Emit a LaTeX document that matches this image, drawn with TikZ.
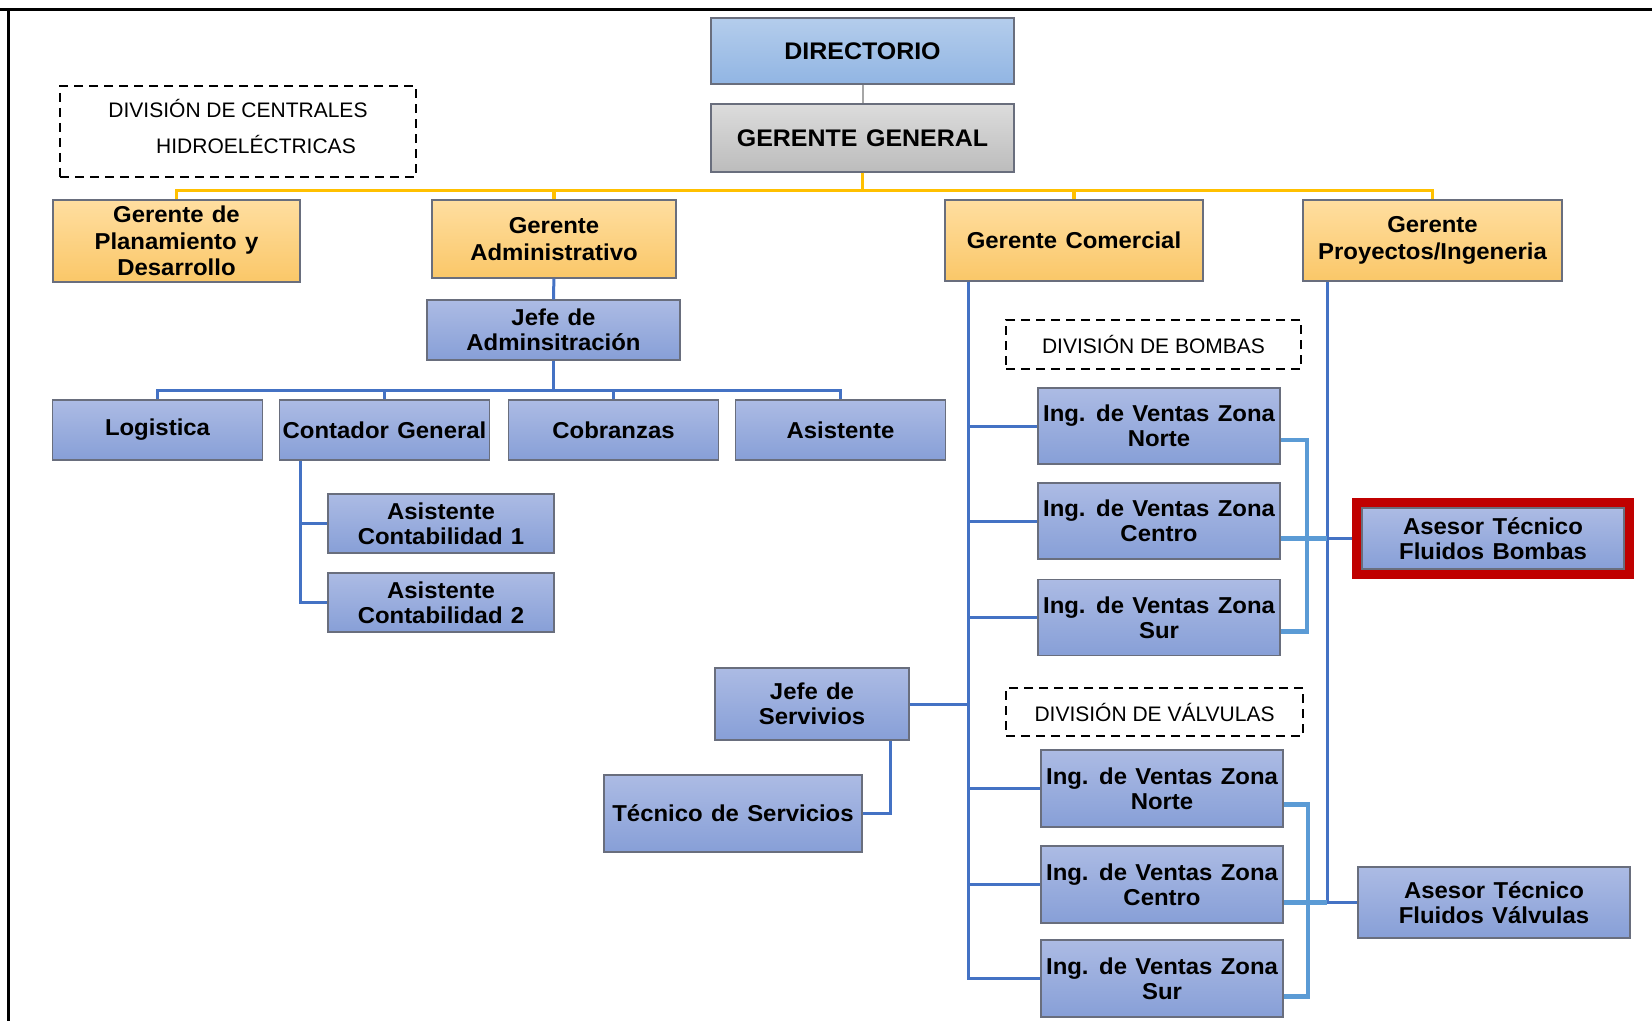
\documentclass[tikz,border=0pt]{standalone}
\usepackage{fontspec}
\setmainfont{Liberation Sans}
\newfontfamily\boxfont{Liberation Sans}[FakeStretch=1.04,WordSpace=1.25]
\usepackage{xcolor}
\definecolor{bluetop}{RGB}{172,187,228}
\definecolor{bluebot}{RGB}{135,159,215}
\definecolor{orgtop}{RGB}{255,222,160}
\definecolor{orgbot}{RGB}{250,199,104}
\definecolor{dirtop}{RGB}{180,205,236}
\definecolor{dirbot}{RGB}{145,181,227}
\definecolor{ggtop}{RGB}{220,220,220}
\definecolor{ggbot}{RGB}{188,188,188}
\definecolor{boxedge}{RGB}{105,110,125}
\definecolor{linkblue}{RGB}{68,114,196}
\definecolor{bracketblue}{RGB}{91,155,213}
\definecolor{lineorange}{RGB}{255,192,0}
\definecolor{redframe}{RGB}{192,0,0}

\begin{document}
\begin{tikzpicture}[x=0.5pt,y=-0.5pt,
  wh/.style 2 args={minimum width=#1*0.5pt,minimum height=#2*0.5pt},
  box/.style={draw=boxedge,line width=0.7pt,inner sep=0pt,align=center,
    font=\boxfont\fontsize{11.5}{12.5}\selectfont\bfseries},
  bluebox/.style={box,top color=bluetop,bottom color=bluebot},
  orgbox/.style={box,top color=orgtop,bottom color=orgbot,
    font=\boxfont\fontsize{11.5}{13.2}\selectfont\bfseries},
  headbox/.style={box,font=\boxfont\fontsize{12}{14}\selectfont\bfseries},
  divbox/.style={draw,line width=1pt,dash pattern=on 4.5pt off 3pt,
    inner sep=0pt,align=center,font=\fontsize{10.5}{12.5}\selectfont},
  ln/.style={linkblue,line width=1.5pt},
  br/.style={bracketblue,line width=2.2pt},
  gold/.style={lineorange,line width=1.8pt}]
  \useasboundingbox (0,0) rectangle (1652,1021);
  % frame
  \draw[line width=1.5pt] (0,10) -- (1652,10);
  \draw[line width=1.5pt] (8,10) -- (8,1021);

  % top of the chart
  \node[headbox,top color=dirtop,bottom color=dirbot,wh={303}{66}] (dir) at (862.5,51) {DIRECTORIO};
  \node[headbox,top color=ggtop,bottom color=ggbot,wh={303}{68}] (gg) at (862.5,138) {GERENTE GENERAL};
  \node[divbox,wh={356}{91}] (divcen) at (238,131.5) {};
  \node[align=center,inner sep=0pt,font=\fontsize{10.5}{12.5}\selectfont] (divcentxt)
    at ([yshift=2.5pt]divcen.center) {DIVISIÓN DE CENTRALES\\[5.5pt]\hspace*{18pt}HIDROELÉCTRICAS};

  % gerencias
  \node[orgbox,wh={247}{82}] (plan) at (176.5,241) {Gerente de\\Planamiento y\\Desarrollo};
  \node[orgbox,wh={244}{78}] (adm) at (554,239) {Gerente\\Administrativo};
  \node[orgbox,wh={258}{81}] (com) at (1074,240.5) {Gerente Comercial};
  \node[orgbox,wh={259}{81}] (proy) at (1432.5,240.5) {Gerente\\Proyectos/Ingeneria};

  % area administrativa
  \node[bluebox,wh={253}{60}] (jadm) at (553.5,330) {Jefe de\\Adminsitración};
  \foreach \n/\x/\t in {log/157.5/Logistica, cont/384.5/Contador General,
                        cob/613.5/Cobranzas, asis/840.5/Asistente}
    \node[bluebox,wh={210}{60}] (\n) at (\x,430) {\t};
  \node[bluebox,wh={226}{59}] (ac1) at (441,523.5) {Asistente\\Contabilidad 1};
  \node[bluebox,wh={226}{59}] (ac2) at (441,602.5) {Asistente\\Contabilidad 2};

  % servicios
  \node[bluebox,wh={194}{72}] (jserv) at (812,704) {Jefe de\\Servivios};
  \node[bluebox,wh={258}{77}] (tec) at (733,813.5) {Técnico de Servicios};

  % ventas
  \node[divbox,wh={295}{49}] (divb) at (1153.5,344.5) {DIVISIÓN DE BOMBAS};
  \node[divbox,wh={297}{48}] (divv) at (1154.5,712) {DIVISIÓN DE VÁLVULAS};
  \foreach \n/\y/\z in {ibn/426/Norte, ibc/521/Centro, ibs/617.5/Sur}
    \node[bluebox,wh={242}{76}] (\n) at (1159,\y) {Ing. de Ventas Zona\\\z};
  \foreach \n/\y/\z in {ivn/788.5/Norte, ivc/884.5/Centro, ivs/978.5/Sur}
    \node[bluebox,wh={242}{77}] (\n) at (1162,\y) {Ing. de Ventas Zona\\\z};
  \node[bluebox,wh={262}{61}] (aseb) at (1493,538.5) {Asesor Técnico\\Fluidos Bombas};
  \node[bluebox,wh={272}{71}] (asev) at (1494,902.5) {Asesor Técnico\\Fluidos Válvulas};

  % connectors
  \draw[gray!70,line width=1pt] (dir) -- (gg);
  \foreach \n in {plan,adm,com,proy}
    \draw[gold] (gg.south) -- ++(0,18) -| (\n.north);
  \draw[ln] (adm) -- (jadm);
  \foreach \n in {log,cont,cob,asis}
    \draw[ln] (jadm.south) -- ++(0,30) -| (\n.north);
  \foreach \n in {ac1,ac2}
    \draw[ln] ([xshift=11pt]cont.south west) |- (\n.west);

  \coordinate (trunk) at ([xshift=12pt]com.south west);
  \foreach \n in {ibn,ibc,ibs,ivn,ivc,ivs}
    \draw[ln] (trunk) |- (\n.west);
  \draw[ln] (jserv.east) -- (jserv.east -| trunk);
  \draw[ln] ([xshift=-9.5pt]jserv.south east) |- (tec.east);

  \coordinate (ptrunk) at ([xshift=12.5pt]proy.south west);
  \draw[ln] (ptrunk) |- (asev.west);
  \draw[ln] (aseb.west -| ptrunk) -- (aseb.west);
  \draw[br] ([yshift=-7pt]ibn.east) -- ++(26,0) |- ([yshift=-7pt]ibs.east);
  \draw[br] (aseb.west -| ibc.east) -- (aseb.west -| ptrunk);
  \draw[br] ([yshift=-8pt]ivn.east) -- ++(24,0) |- ([yshift=-9pt]ivs.east);
  \draw[br] (asev.west -| ivc.east) -- (asev.west -| ptrunk);

  % red highlight
  \draw[redframe,line width=4.5pt] ([shift={(-2.5pt,2.5pt)}]aseb.north west)
    rectangle ([shift={(2.5pt,-2.5pt)}]aseb.south east);
\end{tikzpicture}
\end{document}
